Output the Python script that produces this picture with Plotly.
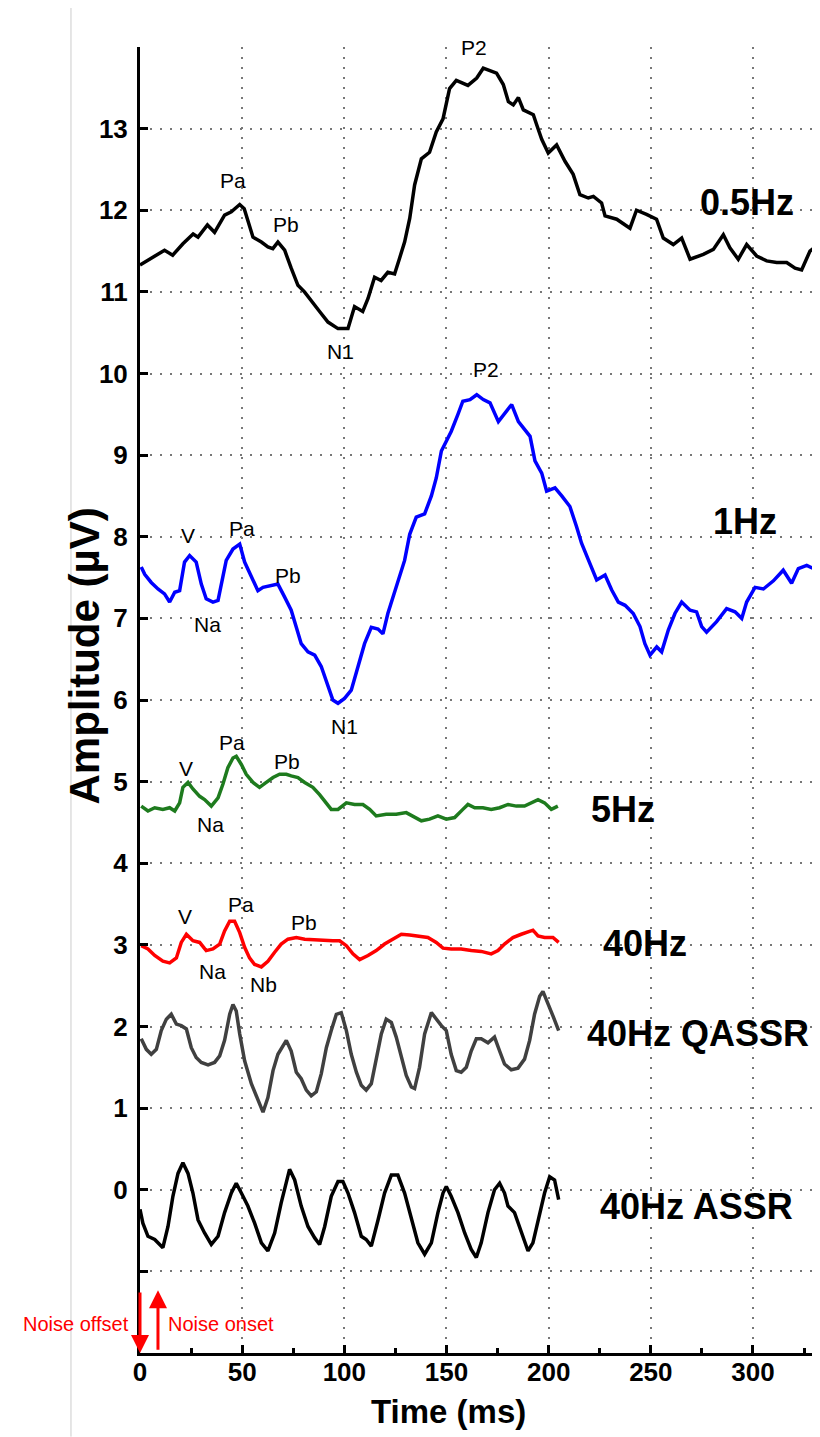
import plotly.graph_objects as go

# ---------------- data ----------------
t_05 = [0, 5.5, 12, 16, 21, 26, 28.4, 33, 36.5, 41.4, 44.7, 48.8, 51, 55.3, 59.4, 62.6, 65, 67.5, 70.8, 74,
        77.3, 80.5, 83.8, 87.9, 92, 96.9, 101.8, 105, 109, 111.6, 114.8, 118, 121.3, 124.6, 127, 129.5, 132,
        134.4, 137.7, 141.7, 145, 148.3, 151.5, 154.8, 160.5, 164.8, 168, 174.5, 177.8, 180.3, 182.7, 185.2,
        187.6, 192.5, 194.1, 196.6, 199.8, 203.9, 208, 212, 215.3, 219.4, 221.9, 225.9, 227.6, 233.3, 239.8,
        243, 247.9, 252.8, 256.1, 261, 265.1, 269.2, 275.7, 280.6, 285.5, 288.7, 292.8, 296.9, 301.8, 306.7,
        311.6, 316.5, 320.6, 323.8, 327.9, 332]
v_05 = [11.33, 11.41, 11.51, 11.45, 11.59, 11.71, 11.67, 11.82, 11.73, 11.94, 11.98, 12.07, 12.02, 11.67, 11.61,
        11.55, 11.53, 11.61, 11.51, 11.29, 11.08, 11.0, 10.9, 10.76, 10.63, 10.55, 10.55, 10.82, 10.76, 10.92,
        11.18, 11.14, 11.24, 11.22, 11.41, 11.61, 11.9, 12.31, 12.63, 12.71, 12.96, 13.12, 13.49, 13.59, 13.53,
        13.62, 13.74, 13.68, 13.54, 13.33, 13.29, 13.38, 13.23, 13.17, 13.05, 12.87, 12.7, 12.8, 12.6, 12.44,
        12.19, 12.15, 12.17, 12.09, 11.93, 11.89, 11.78, 12.0, 11.95, 11.89, 11.66, 11.58, 11.66, 11.4, 11.46,
        11.52, 11.7, 11.54, 11.4, 11.58, 11.44, 11.38, 11.36, 11.36, 11.29, 11.27, 11.5, 11.58]

t_1 = [0.6, 2.3, 5.5, 8.8, 12, 14.5, 17, 19.4, 21.8, 24.3, 27.5, 30, 32.4, 35.7, 38.2, 40.6, 42.2, 45.5, 48.8,
       51.2, 54.5, 57.7, 60.2, 64.3, 67.5, 70.8, 74, 76.5, 78.9, 82.2, 85.5, 88.7, 92, 94.4, 96.9, 100.1, 103.4,
       106.7, 109.9, 113.2, 116.5, 118.9, 121.3, 123.8, 126.2, 129.5, 132, 135.2, 139.3, 142.6, 145, 147.5,
       149.9, 152.3, 155.6, 158, 161.5, 164.8, 168, 171.3, 175.4, 178.6, 181.9, 185.2, 188.4, 190.9, 193.3,
       196.6, 199, 203.1, 206.4, 210.4, 213.7, 216.1, 219.4, 223.5, 227.6, 230.8, 234.1, 237.4, 241.4, 244.7,
       247.1, 249.6, 252.9, 255.3, 258.6, 261.8, 265.1, 269.2, 272.4, 274.9, 277.3, 282.2, 287.1, 291.2,
       294.5, 296.9, 301, 305.1, 310, 314.8, 318.9, 322.2, 326.3, 329.5, 332.8]
v_1 = [7.63, 7.54, 7.44, 7.36, 7.30, 7.2, 7.32, 7.34, 7.69, 7.77, 7.69, 7.42, 7.24, 7.2, 7.22, 7.5, 7.71, 7.85,
       7.91, 7.69, 7.5, 7.34, 7.38, 7.4, 7.42, 7.26, 7.1, 6.89, 6.69, 6.59, 6.55, 6.41, 6.16, 6.0, 5.96, 6.02,
       6.12, 6.41, 6.69, 6.89, 6.87, 6.81, 7.06, 7.26, 7.46, 7.71, 8.03, 8.24, 8.28, 8.5, 8.72, 9.05, 9.17,
       9.29, 9.5, 9.66, 9.68, 9.74, 9.68, 9.64, 9.41, 9.52, 9.62, 9.41, 9.31, 9.23, 8.93, 8.78, 8.56, 8.6,
       8.5, 8.37, 8.12, 7.92, 7.72, 7.47, 7.53, 7.35, 7.2, 7.16, 7.06, 6.9, 6.69, 6.55, 6.65, 6.59, 6.86,
       7.06, 7.2, 7.1, 7.08, 6.9, 6.83, 6.96, 7.12, 7.08, 7.0, 7.2, 7.38, 7.36, 7.46, 7.59, 7.43, 7.61,
       7.65, 7.61, 7.57]

t_5 = [0.6, 3.9, 7.2, 11.2, 14.5, 17, 19.4, 21, 23.5, 25.9, 29.2, 31.6, 34.9, 38.2, 40.6, 43, 45.5, 47.1, 49.6,
       52, 55.3, 58.5, 61.8, 65.1, 68.3, 71.6, 74, 77.3, 80.6, 84.6, 87.9, 91.2, 93.6, 96.9, 101, 105, 109.1,
       112.4, 115.6, 120.5, 125.4, 130.3, 134.4, 137.7, 141.7, 145.8, 149.9, 154, 158, 160.5, 163.8, 167.8,
       171.9, 176, 180.1, 184.2, 188.2, 191.5, 194.8, 198, 201.3, 204.5]
v_5 = [4.70, 4.64, 4.68, 4.66, 4.68, 4.64, 4.74, 4.93, 4.99, 4.91, 4.82, 4.78, 4.70, 4.80, 4.97, 5.17, 5.29,
       5.31, 5.21, 5.09, 4.99, 4.93, 4.99, 5.05, 5.09, 5.09, 5.07, 5.05, 4.99, 4.93, 4.84, 4.74, 4.66, 4.66,
       4.74, 4.72, 4.72, 4.66, 4.58, 4.60, 4.60, 4.62, 4.56, 4.52, 4.54, 4.58, 4.54, 4.56, 4.66, 4.72, 4.68,
       4.68, 4.66, 4.68, 4.72, 4.70, 4.70, 4.74, 4.78, 4.74, 4.66, 4.70]

t_40 = [0.6, 3.9, 7.2, 11.2, 14.5, 17.8, 20.2, 22.7, 25.9, 29.2, 32.4, 35.7, 39, 41.4, 43.9, 46.3, 48.8, 51.2,
        53.6, 56.1, 59.4, 62.6, 65.9, 69.1, 72.4, 76.5, 80.6, 85.5, 90.4, 94.4, 97.7, 101, 104.2, 107.5, 111.6,
        115.6, 119.7, 123.8, 127.9, 132, 136.8, 140.9, 145, 148.3, 152.3, 157.2, 162.1, 167, 171.9, 175.2,
        178.4, 182.5, 186.6, 189, 192.3, 194.8, 198, 202.1, 204.9]
v_40 = [2.99, 2.95, 2.87, 2.80, 2.78, 2.84, 3.03, 3.13, 3.05, 3.03, 2.93, 2.95, 3.01, 3.17, 3.29, 3.29, 3.15,
        2.97, 2.84, 2.76, 2.73, 2.80, 2.91, 3.01, 3.07, 3.09, 3.07, 3.06, 3.05, 3.05, 3.05, 2.99, 2.89, 2.82,
        2.87, 2.93, 3.01, 3.07, 3.13, 3.12, 3.10, 3.09, 3.03, 2.96, 2.95, 2.95, 2.93, 2.92, 2.89, 2.93, 3.01,
        3.09, 3.13, 3.15, 3.18, 3.11, 3.09, 3.09, 3.03]

t_q = [0.6, 3.1, 5.5, 8, 10.4, 12.9, 15.3, 17.8, 20.2, 22.7, 25.1, 27.5, 30, 33.3, 36.5, 39, 41.4, 43.9, 45.5,
       47.1, 48.8, 51.2, 54.5, 57.7, 60.2, 62.6, 65.1, 67.5, 71.6, 74, 76.5, 78.9, 81.4, 83.8, 86.3, 88.7,
       91.2, 93.6, 96.1, 98.5, 101, 103.4, 105.9, 108.3, 110.7, 113.2, 115.6, 118.1, 120.5, 123, 125.4, 127.9,
       130.3, 132.8, 134.4, 136.8, 139.3, 142.6, 145, 147.5, 149.9, 152.3, 154.8, 157.2, 159.7, 162.1, 164.6,
       167, 170.3, 173.5, 176, 178.4, 181.7, 185, 188.2, 190.7, 193.1, 195.6, 197.2, 199.6, 202.1, 204.9]
v_q = [1.85, 1.72, 1.66, 1.72, 1.95, 2.09, 2.15, 2.03, 2.01, 1.97, 1.74, 1.62, 1.56, 1.53, 1.56, 1.64, 1.83,
       2.15, 2.27, 2.19, 1.91, 1.58, 1.3, 1.09, 0.95, 1.13, 1.46, 1.66, 1.83, 1.70, 1.44, 1.36, 1.22, 1.15,
       1.20, 1.42, 1.74, 1.95, 2.15, 2.17, 1.95, 1.66, 1.44, 1.28, 1.22, 1.30, 1.58, 1.91, 2.09, 2.05, 1.87,
       1.62, 1.40, 1.26, 1.24, 1.50, 1.91, 2.17, 2.09, 2.01, 1.95, 1.66, 1.46, 1.44, 1.50, 1.70, 1.85, 1.85,
       1.80, 1.87, 1.70, 1.54, 1.47, 1.49, 1.60, 1.83, 2.15, 2.37, 2.43, 2.29, 2.13, 1.95]

t_a = [0, 1.4, 3.9, 7.2, 11.2, 13.7, 16.1, 18.6, 21, 23.5, 25.9, 28.4, 31.6, 34.9, 38.2, 41.4, 44.7, 47.1,
       49.6, 52.8, 56.1, 59.4, 62.6, 65.9, 69.1, 71.6, 73.2, 75.7, 78.9, 82.2, 85.5, 87.9, 90.4, 93.6, 96.9,
       99.3, 101.8, 105, 108.3, 110.7, 113.2, 116.5, 119.7, 123, 126.2, 129.5, 132.8, 136, 139.3, 142.6,
       145.8, 148.3, 149.9, 152.3, 155.6, 158.9, 162.1, 164.6, 167, 170.3, 173.5, 176, 178.4, 180.1, 183.3,
       186.6, 189.9, 192.3, 194.8, 198, 200.5, 202.9, 204.9]
v_a = [-0.24, -0.41, -0.57, -0.61, -0.71, -0.45, -0.08, 0.2, 0.33, 0.2, -0.04, -0.37, -0.53, -0.67, -0.57,
       -0.28, -0.04, 0.08, -0.04, -0.2, -0.41, -0.65, -0.75, -0.53, -0.16, 0.12, 0.25, 0.12, -0.2, -0.45,
       -0.59, -0.67, -0.45, -0.08, 0.1, 0.1, -0.04, -0.28, -0.57, -0.61, -0.69, -0.37, -0.04, 0.18, 0.18,
       -0.04, -0.37, -0.65, -0.79, -0.65, -0.28, -0.04, 0.04, -0.08, -0.28, -0.53, -0.73, -0.83, -0.65,
       -0.28, 0.0, 0.08, -0.04, -0.2, -0.28, -0.53, -0.75, -0.65, -0.37, -0.04, 0.16, 0.12, -0.12]

series_names = ["0.5Hz", "1Hz", "5Hz", "40Hz", "40Hz QASSR", "40Hz ASSR"]
series_colors = ["#000000", "#0000FF", "#1E7B1E", "#FF0000", "#404040", "#000000"]

y_tickvals = list(range(-1, 15))
y_ticktext = [""] + [str(v) for v in range(0, 14)] + [""]

# peak labels: (text, x ms, y µV)
peak_labels = [
    ("Pa", 45.5, 12.37), ("Pb", 71.5, 11.83), ("N1", 98.0, 10.27), ("P2", 163.5, 14.0),
    ("V", 23.5, 8.01), ("Pa", 50, 8.1), ("Pb", 72.5, 7.52), ("Na", 33, 6.92), ("N1", 100.3, 5.68), ("P2", 169.5, 10.05),
    ("V", 22.5, 5.16), ("Pa", 45, 5.48), ("Pb", 72, 5.25), ("Na", 34.7, 4.47),
    ("V", 22, 3.35), ("Pa", 49.5, 3.5), ("Pb", 80.3, 3.27), ("Na", 35.7, 2.67), ("Nb", 60.2, 2.52),
]
# series label positions (centre, ms / µV)
series_label_pos = [(297, 12.1), (296, 8.19), (236.4, 4.66), (247, 3.02), (273, 1.92), (272.5, -0.2)]

traces_t = [t_05, t_1, t_5, t_40, t_q, t_a]
traces_v = [v_05, v_1, v_5, v_40, v_q, v_a]

FONT = "Liberation Sans, Arial, sans-serif"

fig = go.Figure()
for name, col, tt, vv in zip(series_names, series_colors, traces_t, traces_v):
    fig.add_trace(go.Scatter(x=tt, y=vv, mode="lines", name=name,
                             line=dict(color=col, width=3.5), showlegend=False, hoverinfo="skip"))

ann = []
for txt, xx, yy in peak_labels:
    ann.append(dict(x=xx, y=yy, text=txt, showarrow=False, xref="x", yref="y",
                    font=dict(family=FONT, size=21, color="#000000")))
for name, (xx, yy) in zip(series_names, series_label_pos):
    ann.append(dict(x=xx, y=yy, text=name, showarrow=False, xref="x", yref="y",
                    font=dict(family=FONT, size=36, color="#000000", weight="bold")))

# noise arrows
ann.append(dict(x=0, y=-2, ax=0, ay=-62, xref="x", yref="y", showarrow=True, text="",
                arrowhead=2, arrowsize=1.2, arrowwidth=3, arrowcolor="#FF0000"))
ann.append(dict(x=8.8, y=-1.23, ax=0, ay=61, xref="x", yref="y", showarrow=True, text="",
                arrowhead=2, arrowsize=1.2, arrowwidth=3, arrowcolor="#FF0000"))
ann.append(dict(x=-0.013, y=-1.64, text="Noise offset", showarrow=False, xref="paper", yref="y",
                xanchor="right", font=dict(family=FONT, size=20, color="#FF0000")))
ann.append(dict(x=12.5, y=-1.64, text="Noise onset", showarrow=False, xref="x", yref="y", xanchor="left",
                font=dict(family=FONT, size=20, color="#FF0000")))

# axis titles
ann.append(dict(x=0.454, y=-0.045, xref="paper", yref="paper", text="Time (ms)", showarrow=False,
                xanchor="center", yanchor="middle",
                font=dict(family=FONT, size=33, color="#000000", weight="bold")))
ann.append(dict(x=-0.081, y=0.534, xref="paper", yref="paper", text="Amplitude (µV)", showarrow=False,
                textangle=-90, xanchor="center", yanchor="middle",
                font=dict(family=FONT, size=42, color="#000000", weight="bold")))

fig.update_layout(
    width=812, height=1429,
    margin=dict(l=132, r=0, t=39, b=84),
    paper_bgcolor="white", plot_bgcolor="white",
    annotations=ann,
    shapes=[dict(type="line", xref="paper", yref="paper", x0=-0.1015, x1=-0.1015, y0=1.03, y1=-0.064,
                 line=dict(color="#cccccc", width=1))],
)
fig.update_xaxes(
    range=[0, 332.8], dtick=50, tick0=0,
    showline=True, linecolor="black", linewidth=3,
    ticks="inside", ticklen=8, tickwidth=3, tickcolor="black",
    showgrid=True, gridcolor="#777777", gridwidth=2, griddash="2px,8px",
    zeroline=False,
    tickfont=dict(family=FONT, size=26, color="black", weight="bold"),
    ticklabelstandoff=-6,
    minor=dict(dtick=25, ticks="inside", ticklen=5, tickwidth=3, tickcolor="black", showgrid=False),
)
fig.update_yaxes(
    range=[-2, 14], tickmode="array", tickvals=y_tickvals, ticktext=y_ticktext,
    showline=True, linecolor="black", linewidth=3,
    ticks="inside", ticklen=8, tickwidth=3, tickcolor="black",
    showgrid=True, gridcolor="#777777", gridwidth=2, griddash="2px,8px",
    zeroline=False,
    tickfont=dict(family=FONT, size=26, color="black", weight="bold"),
    ticklabelstandoff=4,
)

fig.write_html("out.html")
